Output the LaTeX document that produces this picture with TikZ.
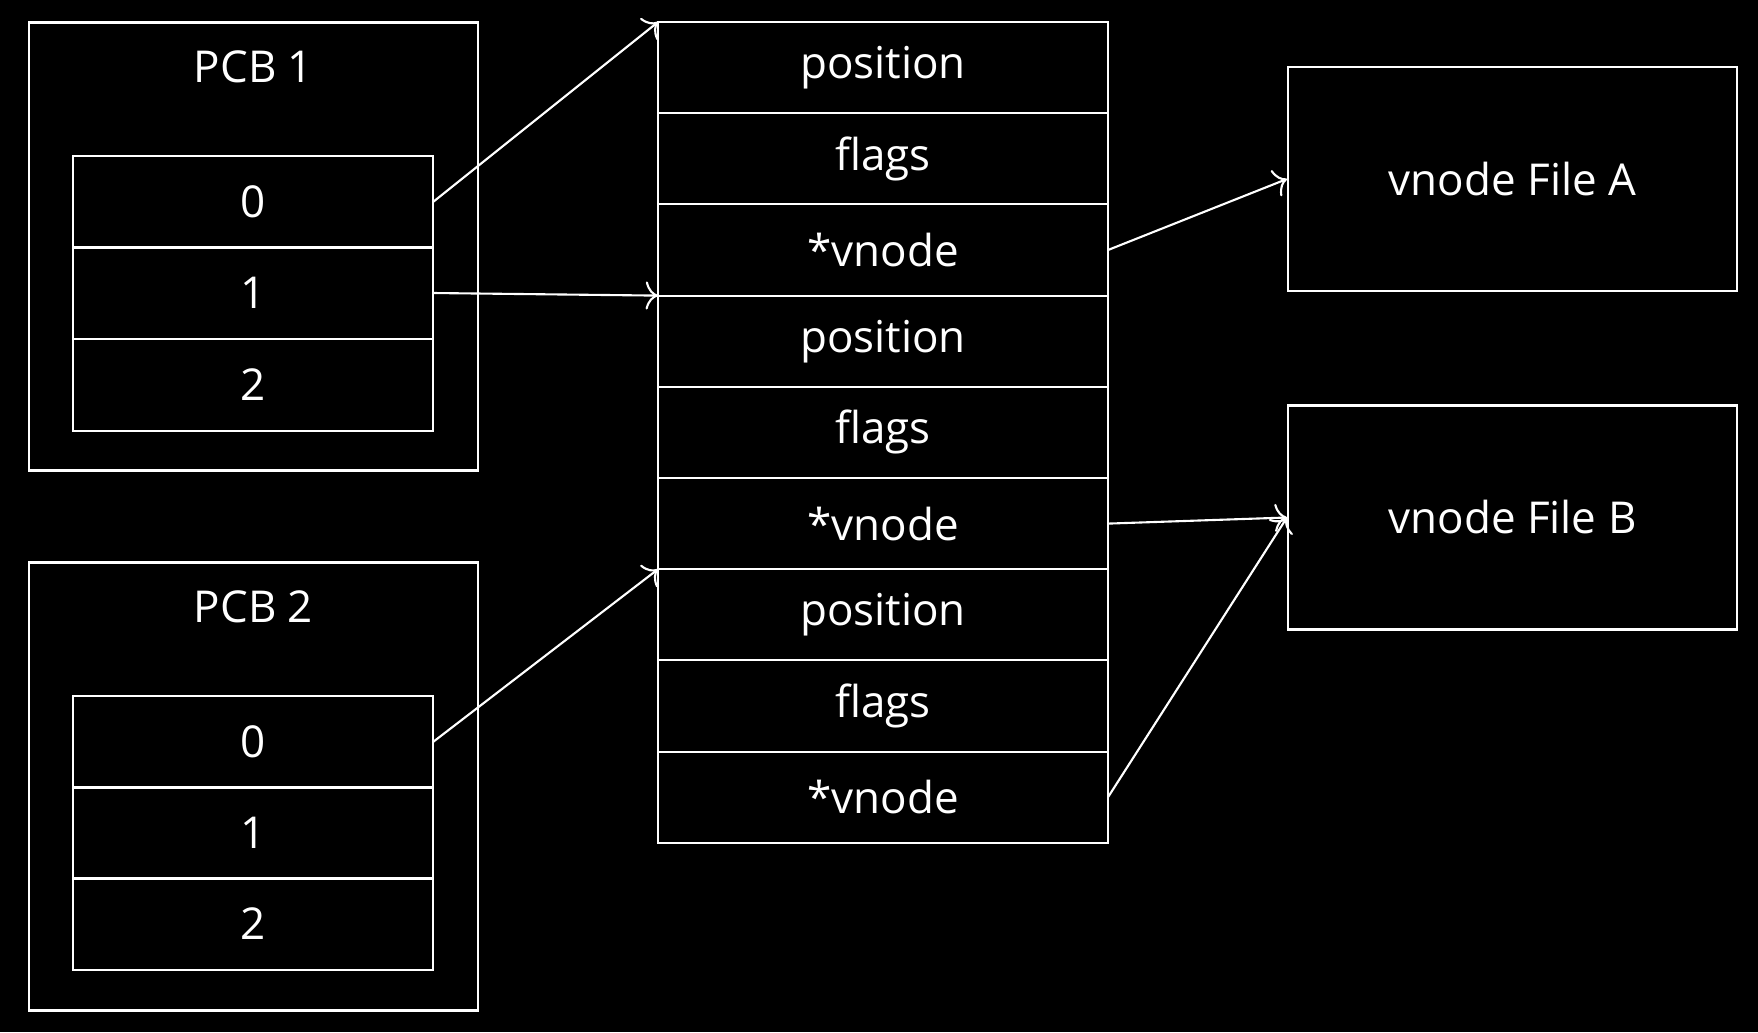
\documentclass[tikz,border=0pt]{standalone}
\usepackage{fontspec}
\setmainfont{Open Sans}
\usetikzlibrary{arrows.meta}

\tikzset{
    cell/.style={draw=white, line width=0.6pt, inner sep=0pt, outer sep=0pt,
        minimum height=0.912cm, text=white},
    pcbcell/.style={cell, minimum width=3.6cm},
    filecell/.style={cell, minimum width=4.5cm},
    pcbbox/.style={draw=white, line width=0.6pt, inner sep=0pt,
        minimum width=4.49cm, minimum height=4.48cm},
    vnodebox/.style={draw=white, line width=0.6pt, inner sep=0pt, text=white,
        minimum width=4.49cm, minimum height=2.24cm},
    ptr/.style={draw=white, line width=0.6pt, -{To[length=3.5pt,width=8pt]}}
}

\begin{document}
\begin{tikzpicture}[font=\fontsize{12.5}{15}\selectfont]
        % Background
        \fill[black] (0,0) rectangle (17.58,10.32);
        \useasboundingbox (0,0) rectangle (17.58,10.32);

        % PCB 1
        \node[pcbbox] (pcb1) at (2.535,7.855) {};
        \node[text=white] (pcb1label) at (2.535,9.65) {PCB 1};
        \node[pcbcell] (p1r0) at (2.53,8.30) {0};
        \node[pcbcell] (p1r1) at (2.53,7.39) {1};
        \node[pcbcell] (p1r2) at (2.53,6.47) {2};

        % PCB 2
        \node[pcbbox] (pcb2) at (2.535,2.455) {};
        \node[text=white] (pcb2label) at (2.535,4.25) {PCB 2};
        \node[pcbcell] (p2r0) at (2.53,2.90) {0};
        \node[pcbcell] (p2r1) at (2.53,1.99) {1};
        \node[pcbcell] (p2r2) at (2.53,1.08) {2};

        % Open file table
        \foreach \i/\txt in {0/position,1/flags,2/*vnode,
                             3/position,4/flags,5/*vnode,
                             6/position,7/flags,8/*vnode}
            \node[filecell] (m\i) at (8.83,9.644-0.912*\i) {\txt};

        % vnodes
        \node[vnodebox] (fileA) at (15.125,8.53) {vnode File A};
        \node[vnodebox] (fileB) at (15.125,5.145) {vnode File B};

        % Pointers
        \draw[ptr] (p1r0.east) -- (m0.north west);
        \draw[ptr] (p1r1.east) -- (m3.north west);
        \draw[ptr] (p2r0.east) -- (m6.north west);

        \draw[ptr] (m2.east) -- (fileA.west);
        \draw[ptr] (m5.east) -- (fileB.west);
        \draw[ptr] (m8.east) -- (fileB.west);
    \end{tikzpicture}
\end{document}
